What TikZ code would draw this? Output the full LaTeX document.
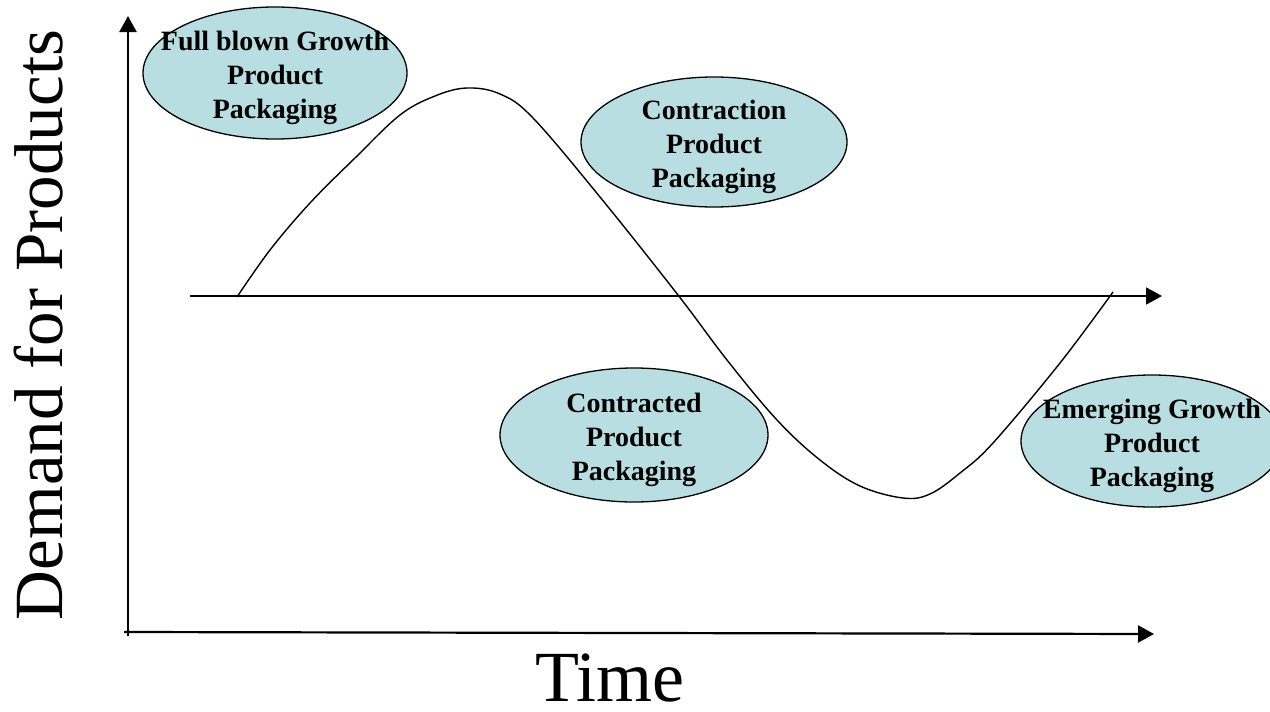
\documentclass[tikz,border=0pt]{standalone}
\usepackage{fontspec}
\setmainfont{Liberation Serif}
\usetikzlibrary{arrows.meta,shapes.geometric}
\definecolor{bubblefill}{RGB}{184,222,226}
\begin{document}
\begin{tikzpicture}[x=1pt,y=-1pt,
  axis/.style={line width=2.2pt, -{Triangle[length=16pt,width=17pt]}},
  curveline/.style={line width=1.4pt, line join=round},
  bubble/.style={ellipse, draw, line width=1.3pt, fill=bubblefill, inner sep=0pt},
  bubbletext/.style={font=\fontsize{28}{34}\selectfont\bfseries, align=center, yshift=-5pt},
  bigtext/.style={inner sep=0pt}
]
\fill[white] (0,0) rectangle (1270,712);
\useasboundingbox (0,0) rectangle (1270,712);

% axes
\coordinate (vb) at (128,636);
\coordinate (vt) at (128,16);
\coordinate (hb0) at (124,632);
\coordinate (hb1) at (1154,634);
\coordinate (hm0) at (190,296);
\coordinate (hm1) at (1162,296);
\draw[axis] (vb) -- (vt);
\draw[axis] (hb0) -- (hb1);
\draw[axis,line width=2pt] (hm0) -- (hm1);

% demand curve
\draw[curveline] plot[smooth, tension=0.6] coordinates {
 (237,297) (270,250) (310,203) (355,158) (400,115) (435,96) (467,88)
 (500,94) (533,118) (600,197) (678,295) (727,360) (777,420) (820,460)
 (860,486) (903,498) (930,494) (960,473) (993,443) (1060,363) (1113,292)};

% bubbles
\node[bubble, minimum width=264pt, minimum height=132pt] (full) at (275,73) {};
\node[bubbletext] (fullt) at (full) {Full blown Growth\\Product\\Packaging};

\node[bubble, minimum width=266pt, minimum height=130pt] (contraction) at (714,142) {};
\node[bubbletext] (contractiont) at (contraction) {Contraction\\Product\\Packaging};

\node[bubble, minimum width=268pt, minimum height=134pt] (contracted) at (634,435) {};
\node[bubbletext] (contractedt) at (contracted) {Contracted\\Product\\Packaging};

\node[bubble, minimum width=262pt, minimum height=132pt] (emerging) at (1152,441) {};
\node[bubbletext] (emergingt) at (emerging) {Emerging Growth\\Product\\Packaging};

% axis labels
\node[bigtext, font=\fontsize{69}{80}\selectfont, rotate=90, anchor=base] (ylab) at (62,325) {Demand for Products};
\node[bigtext, font=\fontsize{72}{84}\selectfont, anchor=base] (xlab) at (610,701) {Time};
\end{tikzpicture}
\end{document}
